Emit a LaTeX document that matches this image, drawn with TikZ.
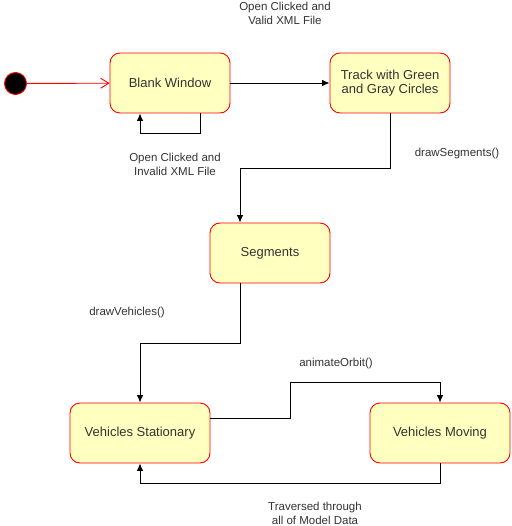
\documentclass[tikz,border=0pt]{standalone}
\usepackage{fontspec}
\setmainfont{Liberation Sans}
\usetikzlibrary{arrows.meta}
\definecolor{statefill}{HTML}{FFFFC0}
\definecolor{statetext}{HTML}{333333}
\begin{document}
\begin{tikzpicture}[x=1pt,y=-1pt,
  statebox/.style={draw=red, fill=statefill, line width=0.9pt, rounded corners=10pt,
    minimum width=120pt, minimum height=60pt, align=center, text=statetext,
    font=\fontsize{13}{14.5}\selectfont, inner sep=2pt},
  widebox/.style={statebox, minimum width=140pt},
  initstate/.style={circle, draw=red, fill=black, line width=0.9pt, minimum size=22pt, inner sep=0pt},
  conn/.style={draw=black, line width=0.9pt, -{Latex[length=7.5pt,width=6.5pt]}},
  initconn/.style={draw=red, line width=0.9pt, -{Straight Barb[length=8pt,width=10pt]}},
  lbl/.style={align=center, font=\fontsize{11.5}{14}\selectfont, text=statetext, inner sep=0pt}]
\useasboundingbox (0,0) rectangle (511,526);

\node[initstate] (init) at (15.5,83.5) {};
\node[statebox] (bw) at (170,83) {Blank Window};
\node[statebox] (tr) at (390,83) {Track with Green\\and Gray Circles};
\node[statebox] (seg) at (270,253) {Segments};
\node[widebox] (vs) at (140,433) {Vehicles Stationary};
\node[widebox] (vm) at (440,433) {Vehicles Moving};

\draw[initconn] (init) -- (bw);
\draw[conn] (bw) -- (tr);
\draw[conn] ([xshift=30pt]bw.south) -- ++(0,20) -| ([xshift=-30pt]bw.south);
\draw[conn] (tr.south) -- ++(0,55) -| ([xshift=-30pt]seg.north);
\draw[conn] ([xshift=-30pt]seg.south) -- ++(0,60) -| (vs.north);
\draw[conn] ([yshift=15pt]vs.east) -- ++(80,0) |- ([yshift=20pt]vm.north) -- (vm.north);
\draw[conn] (vm.south) -- ++(0,20) -| (vs.south);

\node[lbl] (l1) at (285,13) {Open Clicked and\\Valid XML File};
\node[lbl] (l2) at (175,164) {Open Clicked and\\Invalid XML File};
\node[lbl] (l3) at (457,154) {drawSegments()};
\node[lbl] (l4) at (127,313) {drawVehicles()};
\node[lbl] (l5) at (336,364) {animateOrbit()};
\node[lbl] (l6) at (315,513) {Traversed through\\all of Model Data};
\end{tikzpicture}
\end{document}
